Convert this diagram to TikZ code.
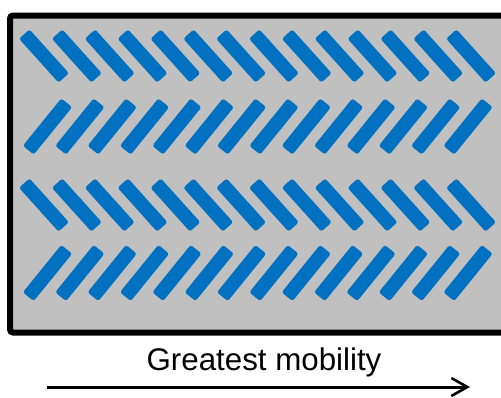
\documentclass[tikz,border=0pt]{standalone}
\usepackage{fontspec}
\setmainfont{Liberation Sans}
\usetikzlibrary{calc,arrows.meta}
\definecolor{stickblue}{HTML}{0070C0}
\definecolor{panelgray}{HTML}{C0C0C0}
\tikzset{
  panel/.style={draw=black,line width=6pt,fill=panelgray,rounded corners=3pt},
  stickfill/.style={fill=stickblue,rounded corners=2.5pt},
  mobarrow/.style={line width=3pt,-{Straight Barb[length=16pt,width=18pt,line width=2.6pt]}},
  caption/.style={font=\fontsize{31.3}{36}\selectfont,inner sep=0pt}
}
\newcommand{\stick}[4]{% center x, center y, angle, length
  \fill[stickfill] ($(#1,#2)+(#3:#4/2)+(#3+90:7)$) -- ($(#1,#2)+(#3:#4/2)+(#3-90:7)$)
    -- ($(#1,#2)+(#3+180:#4/2)+(#3-90:7)$) -- ($(#1,#2)+(#3+180:#4/2)+(#3+90:7)$) -- cycle;}
\begin{document}
\begin{tikzpicture}[x=1pt,y=-1pt]
\useasboundingbox (0,0) rectangle (501,397);
\clip (0,0) rectangle (501,397);
\draw[panel] (10,15.5) rectangle (512,332.5);
\foreach \k in {0,...,13}{
  \stick{44+32.85*\k}{56}{48}{59}
  \stick{47.5+32.35*\k}{126.5}{-51}{61}
  \stick{44+32.85*\k}{205}{48}{59}
  \stick{47.5+32.35*\k}{273}{-51}{61}
}
\node[caption,anchor=base] (cap) at (264,370) {Greatest mobility};
\coordinate (a0) at (47,387);
\coordinate (a1) at (470,387);
\draw[mobarrow] (a0) -- (a1);
\end{tikzpicture}
\end{document}
